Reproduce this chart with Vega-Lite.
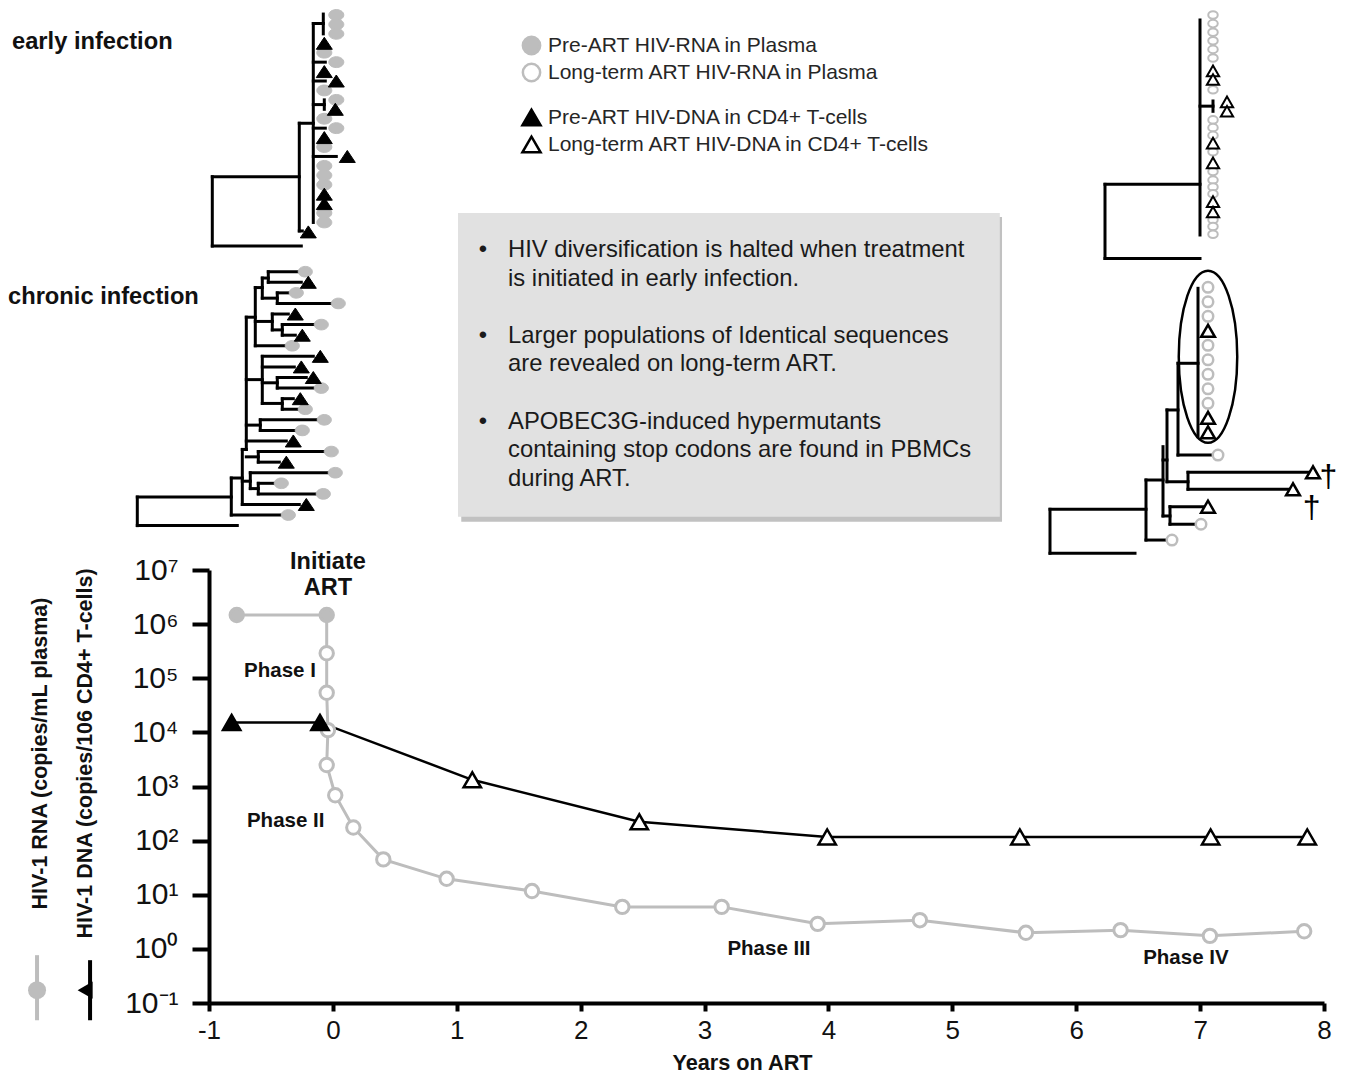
{
  "$schema": "https://vega.github.io/schema/vega-lite/v6.json",
  "padding": {"left": 8, "top": 0, "right": 0, "bottom": 0},
  "background": "white",
  "config": {"view": {"stroke": null}, "font": "Liberation Sans"},
  "datasets": {
    "E_v": [{"d":0,"r":17.15,"r2":24.5},{"d":0.087,"r":11.48,"r2":22.9},{"d":0.101,"r":0.9,"r2":22},{"d":0.111,"r":-0.1,"r2":2.0},{"d":0.112,"r":9,"r2":10}],
    "E_h": [{"r":17.15,"d":0,"d2":0.087},{"r":24.5,"d":0,"d2":0.089},{"r":11.48,"d":0.087,"d2":0.101},{"r":22.9,"d":0.087,"d2":0.09},{"r":0.9,"d":0.101,"d2":0.111},{"r":5,"d":0.101,"d2":0.113},{"r":7,"d":0.101,"d2":0.113},{"r":9.5,"d":0.101,"d2":0.112},{"r":12,"d":0.101,"d2":0.113},{"r":15,"d":0.101,"d2":0.124}],
    "E_t": [{"d":0.124,"r":0,"s":"preRNA"},{"d":0.124,"r":1,"s":"preRNA"},{"d":0.124,"r":2,"s":"preRNA"},{"d":0.112,"r":3,"s":"preDNA"},{"d":0.112,"r":4,"s":"preRNA"},{"d":0.124,"r":5,"s":"preRNA"},{"d":0.112,"r":6,"s":"preDNA"},{"d":0.124,"r":7,"s":"preDNA"},{"d":0.112,"r":8,"s":"preRNA"},{"d":0.124,"r":9,"s":"preRNA"},{"d":0.123,"r":10,"s":"preDNA"},{"d":0.112,"r":11,"s":"preRNA"},{"d":0.124,"r":12,"s":"preRNA"},{"d":0.112,"r":13,"s":"preDNA"},{"d":0.112,"r":14,"s":"preRNA"},{"d":0.135,"r":15,"s":"preDNA"},{"d":0.112,"r":16,"s":"preRNA"},{"d":0.112,"r":17,"s":"preRNA"},{"d":0.112,"r":18,"s":"preRNA"},{"d":0.112,"r":19,"s":"preDNA"},{"d":0.112,"r":20,"s":"preDNA"},{"d":0.112,"r":21,"s":"preRNA"},{"d":0.112,"r":22,"s":"preRNA"},{"d":0.096,"r":23,"s":"preDNA"}],
    "C_v": [{"d":0,"r":21.3,"r2":24.0},{"d":0.094,"r":19.5,"r2":23},{"d":0.105,"r":16.8,"r2":22},{"d":0.109,"r":4.3,"r2":16.8},{"d":0.121,"r":17,"r2":18},{"d":0.113,"r":19,"r2":20.5},{"d":0.121,"r":20,"r2":21},{"d":0.123,"r":14,"r2":15},{"d":0.125,"r":8,"r2":12.45},{"d":0.14,"r":10,"r2":11},{"d":0.145,"r":12,"r2":13},{"d":0.118,"r":1.5,"r2":7},{"d":0.125,"r":0.6,"r2":2.5},{"d":0.131,"r":0,"r2":1},{"d":0.14,"r":2,"r2":3},{"d":0.135,"r":4,"r2":5.5},{"d":0.145,"r":5,"r2":6}],
    "C_h": [{"r":21.3,"d":0,"d2":0.094},{"r":24.0,"d":0,"d2":0.1},{"r":23,"d":0.094,"d2":0.144},{"r":19.5,"d":0.094,"d2":0.105},{"r":22,"d":0.105,"d2":0.162},{"r":16.8,"d":0.105,"d2":0.109},{"r":16,"d":0.109,"d2":0.149},{"r":17.5,"d":0.109,"d2":0.121},{"r":17,"d":0.121,"d2":0.187},{"r":18,"d":0.121,"d2":0.142},{"r":19.8,"d":0.105,"d2":0.113},{"r":19,"d":0.113,"d2":0.191},{"r":20.5,"d":0.113,"d2":0.121},{"r":20,"d":0.121,"d2":0.137},{"r":21,"d":0.121,"d2":0.179},{"r":14.5,"d":0.109,"d2":0.123},{"r":14,"d":0.123,"d2":0.18},{"r":15,"d":0.123,"d2":0.158},{"r":10.2,"d":0.109,"d2":0.125},{"r":8,"d":0.125,"d2":0.176},{"r":9,"d":0.125,"d2":0.157},{"r":10.5,"d":0.125,"d2":0.14},{"r":10,"d":0.14,"d2":0.169},{"r":11,"d":0.14,"d2":0.177},{"r":12.45,"d":0.125,"d2":0.145},{"r":12,"d":0.145,"d2":0.156},{"r":13,"d":0.145,"d2":0.161},{"r":4.3,"d":0.109,"d2":0.118},{"r":7,"d":0.118,"d2":0.148},{"r":1.5,"d":0.118,"d2":0.125},{"r":0.6,"d":0.125,"d2":0.131},{"r":0,"d":0.131,"d2":0.161},{"r":1,"d":0.131,"d2":0.164},{"r":2.5,"d":0.125,"d2":0.14},{"r":2,"d":0.14,"d2":0.152},{"r":3,"d":0.14,"d2":0.194},{"r":4.7,"d":0.118,"d2":0.135},{"r":4,"d":0.135,"d2":0.151},{"r":5.5,"d":0.135,"d2":0.145},{"r":5,"d":0.145,"d2":0.177},{"r":6,"d":0.145,"d2":0.158}],
    "C_t": [{"d":0.168,"r":0,"s":"preRNA"},{"d":0.171,"r":1,"s":"preDNA"},{"d":0.159,"r":2,"s":"preRNA"},{"d":0.201,"r":3,"s":"preRNA"},{"d":0.158,"r":4,"s":"preDNA"},{"d":0.184,"r":5,"s":"preRNA"},{"d":0.165,"r":6,"s":"preDNA"},{"d":0.155,"r":7,"s":"preRNA"},{"d":0.183,"r":8,"s":"preDNA"},{"d":0.164,"r":9,"s":"preDNA"},{"d":0.176,"r":10,"s":"preDNA"},{"d":0.184,"r":11,"s":"preRNA"},{"d":0.163,"r":12,"s":"preDNA"},{"d":0.168,"r":13,"s":"preRNA"},{"d":0.187,"r":14,"s":"preRNA"},{"d":0.165,"r":15,"s":"preRNA"},{"d":0.156,"r":16,"s":"preDNA"},{"d":0.194,"r":17,"s":"preRNA"},{"d":0.149,"r":18,"s":"preDNA"},{"d":0.198,"r":19,"s":"preRNA"},{"d":0.144,"r":20,"s":"preRNA"},{"d":0.186,"r":21,"s":"preRNA"},{"d":0.169,"r":22,"s":"preDNA"},{"d":0.151,"r":23,"s":"preRNA"}],
    "R1_v": [{"d":0,"r":19.69,"r2":28.31},{"d":0.095,"r":0.58,"r2":25.58},{"d":0.108,"r":10.0,"r2":11.2}],
    "R1_h": [{"r":19.69,"d":0,"d2":0.095},{"r":28.31,"d":0,"d2":0.095},{"r":10.6,"d":0.095,"d2":0.108}],
    "R1_t": [{"d":0.108,"r":0,"s":"artRNA"},{"d":0.108,"r":1,"s":"artRNA"},{"d":0.108,"r":2,"s":"artRNA"},{"d":0.108,"r":3,"s":"artRNA"},{"d":0.108,"r":4,"s":"artRNA"},{"d":0.108,"r":5,"s":"artRNA"},{"d":0.108,"r":6.5,"s":"artDNA"},{"d":0.108,"r":7.5,"s":"artDNA"},{"d":0.108,"r":8.7,"s":"artRNA"},{"d":0.122,"r":10.1,"s":"artDNA"},{"d":0.122,"r":11.2,"s":"artDNA"},{"d":0.108,"r":12.2,"s":"artRNA"},{"d":0.108,"r":13.1,"s":"artRNA"},{"d":0.108,"r":14,"s":"artRNA"},{"d":0.108,"r":14.9,"s":"artDNA"},{"d":0.108,"r":15.9,"s":"artRNA"},{"d":0.108,"r":17.2,"s":"artDNA"},{"d":0.108,"r":18.2,"s":"artRNA"},{"d":0.108,"r":19.2,"s":"artRNA"},{"d":0.108,"r":20,"s":"artRNA"},{"d":0.108,"r":20.8,"s":"artRNA"},{"d":0.108,"r":21.7,"s":"artDNA"},{"d":0.108,"r":22.9,"s":"artDNA"},{"d":0.108,"r":23.8,"s":"artRNA"},{"d":0.108,"r":24.6,"s":"artRNA"},{"d":0.108,"r":25.5,"s":"artRNA"}],
    "R2_v": [{"d":0,"r":15.31,"r2":18.34},{"d":0.096,"r":13.29,"r2":17.43},{"d":0.113,"r":10.99,"r2":15.77},{"d":0.12,"r":15.13,"r2":16.34},{"d":0.117,"r":8.46,"r2":13.41},{"d":0.138,"r":12.76,"r2":13.93},{"d":0.128,"r":5.24,"r2":11.57},{"d":0.148,"r":0.07,"r2":10.3}],
    "R2_h": [{"r":15.31,"d":0,"d2":0.096},{"r":18.34,"d":0,"d2":0.085},{"r":17.43,"d":0.096,"d2":0.117},{"r":13.29,"d":0.096,"d2":0.113},{"r":15.77,"d":0.113,"d2":0.12},{"r":15.13,"d":0.12,"d2":0.153},{"r":16.34,"d":0.12,"d2":0.145},{"r":11.91,"d":0.113,"d2":0.117},{"r":8.46,"d":0.117,"d2":0.128},{"r":13.41,"d":0.117,"d2":0.138},{"r":12.76,"d":0.138,"d2":0.258},{"r":13.93,"d":0.138,"d2":0.238},{"r":11.57,"d":0.128,"d2":0.162},{"r":5.24,"d":0.128,"d2":0.148}],
    "R2_t": [{"d":0.158,"r":0,"s":"artRNA"},{"d":0.158,"r":1,"s":"artRNA"},{"d":0.158,"r":2,"s":"artRNA"},{"d":0.158,"r":3,"s":"artDNA"},{"d":0.158,"r":4,"s":"artRNA"},{"d":0.158,"r":5,"s":"artRNA"},{"d":0.158,"r":6,"s":"artRNA"},{"d":0.158,"r":7,"s":"artRNA"},{"d":0.158,"r":8,"s":"artRNA"},{"d":0.158,"r":9,"s":"artDNA"},{"d":0.158,"r":10,"s":"artDNA"},{"d":0.168,"r":11.57,"s":"artRNA"},{"d":0.263,"r":12.76,"s":"artDNA"},{"d":0.243,"r":13.93,"s":"artDNA"},{"d":0.158,"r":15.13,"s":"artDNA"},{"d":0.151,"r":16.34,"s":"artRNA"},{"d":0.122,"r":17.43,"s":"artRNA"}],
    "R2_flag": [{"d":0.2785,"r":13.05,"label":"†"},{"d":0.2617,"r":15.22,"label":"†"}],
    "box": [{"line":0,"text":"HIV diversification is halted when treatment","bullet":true},{"line":1,"text":"is initiated in early infection.","bullet":false},{"line":3,"text":"Larger populations of Identical sequences","bullet":true},{"line":4,"text":"are revealed on long-term ART.","bullet":false},{"line":6,"text":"APOBEC3G-induced hypermutants","bullet":true},{"line":7,"text":"containing stop codons are found in PBMCs","bullet":false},{"line":8,"text":"during ART.","bullet":false}],
    "main": [
      {"a":"RNA","t":-0.776,"v":1470000,"s":"preRNA"},
      {"a":"RNA","t":-0.05,"v":1470000,"s":"preRNA"},
      {"a":"RNA","t":-0.05,"v":290000,"s":"artRNA"},
      {"a":"RNA","t":-0.05,"v":54000,"s":"artRNA"},
      {"a":"RNA","t":-0.04,"v":11000,"s":"artRNA"},
      {"a":"RNA","t":-0.05,"v":2500,"s":"artRNA"},
      {"a":"RNA","t":0.019,"v":690,"s":"artRNA"},
      {"a":"RNA","t":0.165,"v":175,"s":"artRNA"},
      {"a":"RNA","t":0.407,"v":45,"s":"artRNA"},
      {"a":"RNA","t":0.918,"v":19.7,"s":"artRNA"},
      {"a":"RNA","t":1.607,"v":11.7,"s":"artRNA"},
      {"a":"RNA","t":2.336,"v":5.97,"s":"artRNA"},
      {"a":"RNA","t":3.138,"v":5.97,"s":"artRNA"},
      {"a":"RNA","t":3.913,"v":2.9,"s":"artRNA"},
      {"a":"RNA","t":4.738,"v":3.39,"s":"artRNA"},
      {"a":"RNA","t":5.594,"v":1.98,"s":"artRNA"},
      {"a":"RNA","t":6.358,"v":2.22,"s":"artRNA"},
      {"a":"RNA","t":7.079,"v":1.74,"s":"artRNA"},
      {"a":"RNA","t":7.84,"v":2.12,"s":"artRNA"},
      {"a":"DNA","t":-0.817,"v":15300,"s":"preDNA"},
      {"a":"DNA","t":-0.104,"v":15300,"s":"preDNA"},
      {"a":"DNA","t":1.125,"v":1330,"s":"artDNA"},
      {"a":"DNA","t":2.473,"v":223,"s":"artDNA"},
      {"a":"DNA","t":3.99,"v":117,"s":"artDNA"},
      {"a":"DNA","t":5.545,"v":117,"s":"artDNA"},
      {"a":"DNA","t":7.085,"v":117,"s":"artDNA"},
      {"a":"DNA","t":7.865,"v":117,"s":"artDNA"}
    ],
    "phases": [{"t":-0.427,"v":138000,"label":"Phase I"},{"t":-0.381,"v":235,"label":"Phase II"},{"t":3.52,"v":0.99,"label":"Phase III"},{"t":6.885,"v":0.69,"label":"Phase IV"}],
    "art": [{"t":-0.04,"v":14200000,"label":"Initiate"},{"t":-0.04,"v":4600000,"label":"ART"}]
  },
  "spacing": -7,
  "resolve": {"scale": {"fill": "independent", "color": "independent"}, "legend": {"fill": "independent", "color": "independent"}},
  "vconcat": [
    {
      "width": 1131, "height": 552,
      "resolve": {"scale": {"x": "independent", "y": "independent"}},
      "layer": [
        {
          "layer": [
            {
              "encoding": {
                "x": {"field": "d", "type": "quantitative", "scale": {"domain": [-0.0033, 1.1277], "nice": false, "zero": false}, "axis": null},
                "y": {"field": "r", "type": "quantitative", "scale": {"domain": [-1.591, 56.946], "reverse": true, "nice": false, "zero": false}, "axis": null}
              },
              "layer": [
                {"data": {"name": "E_v"}, "mark": {"type": "rule", "color": "black", "strokeWidth": 3, "strokeCap": "square"}, "encoding": {"y2": {"field": "r2"}}},
                {"data": {"name": "E_h"}, "mark": {"type": "rule", "color": "black", "strokeWidth": 3, "strokeCap": "square"}, "encoding": {"x2": {"field": "d2"}}},
                {"data": {"name": "E_t"}, "transform": [{"filter": "datum.s == 'preRNA'"}], "mark": {"type": "point", "shape": "M-1,0A1,0.72,0,1,1,1,0A1,0.72,0,1,1,-1,0Z", "size": 225, "opacity": 1, "stroke": "#bdbdbd", "strokeWidth": 1},
                  "encoding": {"fill": {"field": "s", "type": "nominal", "scale": {"domain": ["preRNA", "artRNA"], "range": ["#bdbdbd", "#ffffff"]},
                    "legend": {"orient": "none", "legendX": 312, "legendY": 35, "title": null, "symbolType": "circle", "symbolSize": 300, "symbolStrokeColor": "#bdbdbd", "symbolStrokeWidth": 2.5, "labelFontSize": 21, "labelFont": "Liberation Sans", "labelColor": "#262626", "labelOffset": 6, "rowPadding": -2, "labelLimit": 600, "labelExpr": "datum.label == 'preRNA' ? 'Pre-ART HIV-RNA in Plasma' : 'Long-term ART HIV-RNA in Plasma'"}}}},
                {"data": {"name": "E_t"}, "transform": [{"filter": "datum.s == 'preDNA'"}], "mark": {"type": "point", "shape": "M0,-0.75L1,0.75L-1,0.75Z", "size": 256, "filled": true, "opacity": 1, "stroke": "black", "strokeWidth": 1},
                  "encoding": {"color": {"field": "s", "type": "nominal", "scale": {"domain": ["preDNA", "artDNA"], "range": ["#000000", "#ffffff"]},
                    "legend": {"orient": "none", "legendX": 312, "legendY": 107, "title": null, "symbolType": "triangle-up", "symbolSize": 330, "symbolStrokeColor": "black", "symbolStrokeWidth": 2.5, "labelFontSize": 21, "labelFont": "Liberation Sans", "labelColor": "#262626", "labelOffset": 6, "rowPadding": 0, "labelLimit": 600, "labelExpr": "datum.label == 'preDNA' ? 'Pre-ART HIV-DNA in CD4+ T-cells' : 'Long-term ART HIV-DNA in CD4+ T-cells'"}}}}
              ]
            },
            {"data": {"values": [{"label": "early infection"}]}, "mark": {"type": "text", "align": "left", "baseline": "middle", "fontSize": 23.7, "fontWeight": "bold", "color": "#111111"},
              "encoding": {"x": {"datum": -0.2003, "type": "quantitative", "scale": {"domain": [-0.0033, 1.1277], "nice": false, "zero": false}, "axis": null}, "y": {"datum": 2.86, "type": "quantitative", "scale": {"domain": [-1.591, 56.946], "reverse": true, "nice": false, "zero": false}, "axis": null}, "text": {"field": "label"}}}
          ]
        },
        {
          "layer": [
            {
              "encoding": {
                "x": {"field": "d", "type": "quantitative", "scale": {"domain": [0.0717, 1.2027], "nice": false, "zero": false}, "axis": null},
                "y": {"field": "r", "type": "quantitative", "scale": {"domain": [-25.681, 26.493], "reverse": true, "nice": false, "zero": false}, "axis": null}
              },
              "layer": [
                {"data": {"name": "C_v"}, "mark": {"type": "rule", "color": "black", "strokeWidth": 3, "strokeCap": "square"}, "encoding": {"y2": {"field": "r2"}}},
                {"data": {"name": "C_h"}, "mark": {"type": "rule", "color": "black", "strokeWidth": 3, "strokeCap": "square"}, "encoding": {"x2": {"field": "d2"}}},
                {"data": {"name": "C_t"}, "transform": [{"filter": "datum.s == 'preRNA'"}], "mark": {"type": "point", "shape": "M-1,0A1,0.75,0,1,1,1,0A1,0.75,0,1,1,-1,0Z", "size": 200, "opacity": 1, "stroke": "#bdbdbd", "strokeWidth": 1}, "encoding": {"fill": {"field": "s", "type": "nominal", "scale": {"domain": ["preRNA", "artRNA"], "range": ["#bdbdbd", "#ffffff"]}}}},
                {"data": {"name": "C_t"}, "transform": [{"filter": "datum.s == 'preDNA'"}], "mark": {"type": "point", "shape": "M0,-0.75L1,0.75L-1,0.75Z", "size": 256, "filled": true, "opacity": 1, "stroke": "black", "strokeWidth": 1}, "encoding": {"color": {"field": "s", "type": "nominal", "scale": {"domain": ["preDNA", "artDNA"], "range": ["#000000", "#ffffff"]}}}}
              ]
            },
            {"data": {"values": [{"label": "chronic infection"}]}, "mark": {"type": "text", "align": "left", "baseline": "middle", "fontSize": 23.7, "fontWeight": "bold", "color": "#111111"},
              "encoding": {"x": {"datum": -0.1293, "type": "quantitative", "scale": {"domain": [0.0717, 1.2027], "nice": false, "zero": false}, "axis": null}, "y": {"datum": 2.39, "type": "quantitative", "scale": {"domain": [-25.681, 26.493], "reverse": true, "nice": false, "zero": false}, "axis": null}, "text": {"field": "label"}}}
          ]
        },
        {
          "encoding": {
            "x": {"field": "d", "type": "quantitative", "scale": {"domain": [-0.896, 0.235], "nice": false, "zero": false}, "axis": null},
            "y": {"field": "r", "type": "quantitative", "scale": {"domain": [-1.744, 62.442], "reverse": true, "nice": false, "zero": false}, "axis": null}
          },
          "layer": [
            {"data": {"name": "R1_v"}, "mark": {"type": "rule", "color": "black", "strokeWidth": 3, "strokeCap": "square"}, "encoding": {"y2": {"field": "r2"}}},
            {"data": {"name": "R1_h"}, "mark": {"type": "rule", "color": "black", "strokeWidth": 3, "strokeCap": "square"}, "encoding": {"x2": {"field": "d2"}}},
            {"data": {"name": "R1_t"}, "transform": [{"filter": "datum.s == 'artRNA'"}], "mark": {"type": "point", "shape": "M-1,0A1,0.8,0,1,1,1,0A1,0.8,0,1,1,-1,0Z", "size": 90, "opacity": 1, "stroke": "#bdbdbd", "strokeWidth": 2}, "encoding": {"fill": {"field": "s", "type": "nominal", "scale": {"domain": ["preRNA", "artRNA"], "range": ["#bdbdbd", "#ffffff"]}}}},
            {"data": {"name": "R1_t"}, "transform": [{"filter": "datum.s == 'artDNA'"}], "mark": {"type": "point", "shape": "triangle-up", "size": 150, "filled": true, "opacity": 1, "stroke": "black", "strokeWidth": 2}, "encoding": {"color": {"field": "s", "type": "nominal", "scale": {"domain": ["preDNA", "artDNA"], "range": ["#000000", "#ffffff"]}}}}
          ]
        },
        {
          "layer": [
            {
              "encoding": {
                "x": {"field": "d", "type": "quantitative", "scale": {"domain": [-0.841, 0.29], "nice": false, "zero": false}, "axis": null},
                "y": {"field": "r", "type": "quantitative", "scale": {"domain": [-19.814, 18.255], "reverse": true, "nice": false, "zero": false}, "axis": null}
              },
              "layer": [
                {"data": {"name": "R2_v"}, "mark": {"type": "rule", "color": "black", "strokeWidth": 3, "strokeCap": "square"}, "encoding": {"y2": {"field": "r2"}}},
                {"data": {"name": "R2_h"}, "mark": {"type": "rule", "color": "black", "strokeWidth": 3, "strokeCap": "square"}, "encoding": {"x2": {"field": "d2"}}},
                {"data": {"name": "R2_t"}, "transform": [{"filter": "datum.s == 'artRNA'"}], "mark": {"type": "point", "shape": "circle", "size": 110, "opacity": 1, "stroke": "#bdbdbd", "strokeWidth": 2.5}, "encoding": {"fill": {"field": "s", "type": "nominal", "scale": {"domain": ["preRNA", "artRNA"], "range": ["#bdbdbd", "#ffffff"]}}}},
                {"data": {"name": "R2_t"}, "transform": [{"filter": "datum.s == 'artDNA'"}], "mark": {"type": "point", "shape": "triangle-up", "size": 190, "filled": true, "opacity": 1, "stroke": "black", "strokeWidth": 2.5}, "encoding": {"color": {"field": "s", "type": "nominal", "scale": {"domain": ["preDNA", "artDNA"], "range": ["#000000", "#ffffff"]}}}},
                {"data": {"name": "R2_flag"}, "mark": {"type": "text", "align": "center", "baseline": "middle", "fontSize": 32, "color": "black"}, "encoding": {"text": {"field": "label"}}}
              ]
            },
            {"data": {"values": [{}]}, "mark": {"type": "point", "shape": "M-0.34,0A0.34,1,0,1,1,0.34,0A0.34,1,0,1,1,-0.34,0Z", "size": 29584, "opacity": 1, "stroke": "black", "strokeWidth": 2.5, "filled": false},
              "encoding": {"x": {"datum": 0.158, "type": "quantitative", "scale": {"domain": [-0.841, 0.29], "nice": false, "zero": false}, "axis": null}, "y": {"datum": 4.79, "type": "quantitative", "scale": {"domain": [-19.814, 18.255], "reverse": true, "nice": false, "zero": false}, "axis": null}}}
          ]
        },
        {
          "layer": [
            {"data": {"values": [{}]}, "mark": {"type": "rect", "color": "#a6a6a6", "opacity": 0.7},
              "encoding": {"x": {"datum": 0.006, "type": "quantitative", "scale": {"domain": [-0.4577, 1.6213], "nice": false, "zero": false}, "axis": null}, "x2": {"datum": 1.0}, "y": {"datum": -1.15, "type": "quantitative", "scale": {"domain": [-8.741, 10.559], "reverse": true, "nice": false, "zero": false}, "axis": null}, "y2": {"datum": 9.5}}},
            {"data": {"values": [{}]}, "mark": {"type": "rect", "color": "#e1e1e1", "opacity": 1},
              "encoding": {"x": {"datum": 0, "type": "quantitative", "scale": {"domain": [-0.4577, 1.6213], "nice": false, "zero": false}, "axis": null}, "x2": {"datum": 0.996}, "y": {"datum": -1.29, "type": "quantitative", "scale": {"domain": [-8.741, 10.559], "reverse": true, "nice": false, "zero": false}, "axis": null}, "y2": {"datum": 9.33}}},
            {"data": {"name": "box"}, "mark": {"type": "text", "align": "left", "baseline": "middle", "fontSize": 23.8, "color": "#1a1a1a"},
              "encoding": {"x": {"datum": 0.092, "type": "quantitative", "scale": {"domain": [-0.4577, 1.6213], "nice": false, "zero": false}, "axis": null}, "y": {"field": "line", "type": "quantitative", "scale": {"domain": [-8.741, 10.559], "reverse": true, "nice": false, "zero": false}, "axis": null}, "text": {"field": "text"}}},
            {"data": {"name": "box"}, "transform": [{"filter": "datum.bullet"}], "mark": {"type": "text", "align": "center", "baseline": "middle", "fontSize": 23.8, "color": "#1a1a1a"},
              "encoding": {"x": {"datum": 0.046, "type": "quantitative", "scale": {"domain": [-0.4577, 1.6213], "nice": false, "zero": false}, "axis": null}, "y": {"field": "line", "type": "quantitative", "scale": {"domain": [-8.741, 10.559], "reverse": true, "nice": false, "zero": false}, "axis": null}, "text": {"value": "•"}}}
          ]
        }
      ]
    },
    {
      "width": 1115, "height": 433,
      "layer": [
        {
          "encoding": {
            "x": {"field": "t", "type": "quantitative", "scale": {"domain": [-1, 8], "nice": false, "zero": false},
              "axis": {"values": [-1, 0, 1, 2, 3, 4, 5, 6, 7, 8], "labelExpr": "datum.value + ''", "labelFontSize": 26, "labelFont": "Liberation Sans", "labelColor": "#111111", "tickSize": 8, "tickWidth": 4, "tickColor": "black", "domainColor": "black", "domainWidth": 4, "labelPadding": 6, "grid": false, "labelFlush": false, "labelOverlap": false, "title": "Years on ART", "titleFontSize": 21.7, "titleFontWeight": "bold", "titleFont": "Liberation Sans", "titleColor": "#111111", "titleX": 533, "titleY": 59, "titleBaseline": "middle", "titleAlign": "center"}},
            "y": {"field": "v", "type": "quantitative", "scale": {"type": "log", "domain": [0.1, 10000000], "nice": false},
              "axis": {"values": [0.1, 1, 10, 100, 1000, 10000, 100000, 1000000, 10000000], "labelExpr": "'10' + ['⁻¹','⁰','¹','²','³','⁴','⁵','⁶','⁷'][round(log(datum.value)/LN10) + 1]", "labelFontSize": 30, "labelFont": "Liberation Sans", "labelColor": "#111111", "tickSize": 17, "tickWidth": 4, "tickColor": "black", "domainColor": "black", "domainWidth": 4, "labelPadding": 14, "grid": false, "labelFlush": false, "labelOverlap": false,
                "title": ["HIV-1 RNA (copies/mL plasma)", "HIV-1 DNA (copies/106 CD4+ T-cells)"], "titleFontSize": 21.5, "titleFontWeight": "bold", "titleFont": "Liberation Sans", "titleColor": "#111111", "titleLineHeight": 45, "titleAngle": -90, "titleX": -158, "titleY": 183, "titleBaseline": "bottom", "titleAlign": "center"}}
          },
          "layer": [
            {"data": {"name": "main"}, "transform": [{"filter": "datum.a == 'RNA'"}], "mark": {"type": "line", "color": "#bdbdbd", "strokeWidth": 3}, "encoding": {"order": {"value": null}}},
            {"data": {"name": "main"}, "transform": [{"filter": "datum.a == 'DNA'"}], "mark": {"type": "line", "color": "black", "strokeWidth": 2.5}, "encoding": {"order": {"value": null}}},
            {"data": {"name": "main"}, "transform": [{"filter": "datum.a == 'RNA'"}], "mark": {"type": "point", "shape": "circle", "size": 180, "opacity": 1, "stroke": "#bdbdbd", "strokeWidth": 3},
              "encoding": {"fill": {"field": "s", "type": "nominal", "scale": {"domain": ["preRNA", "artRNA"], "range": ["#bdbdbd", "#ffffff"]}, "legend": null}}},
            {"data": {"name": "main"}, "transform": [{"filter": "datum.a == 'DNA'"}], "mark": {"type": "point", "shape": "triangle-up", "size": 300, "filled": true, "opacity": 1, "stroke": "black", "strokeWidth": 2.5},
              "encoding": {"color": {"field": "s", "type": "nominal", "scale": {"domain": ["preDNA", "artDNA"], "range": ["#000000", "#ffffff"]}, "legend": null}}},
            {"data": {"name": "phases"}, "mark": {"type": "text", "align": "center", "baseline": "middle", "fontSize": 20.5, "fontWeight": "bold", "color": "#111111"}, "encoding": {"text": {"field": "label"}}},
            {"data": {"name": "art"}, "mark": {"type": "text", "align": "center", "baseline": "middle", "fontSize": 23.5, "fontWeight": "bold", "color": "#111111"}, "encoding": {"text": {"field": "label"}}}
          ]
        },
        {"data": {"values": [{}]}, "mark": {"type": "rule", "color": "#bdbdbd", "strokeWidth": 4},
          "encoding": {"x": {"datum": -2.388, "type": "quantitative", "scale": {"domain": [-1, 8], "nice": false, "zero": false}}, "y": {"datum": 0.765, "type": "quantitative", "scale": {"type": "log", "domain": [0.1, 10000000], "nice": false}}, "y2": {"datum": 0.048}}},
        {"data": {"values": [{}]}, "mark": {"type": "point", "shape": "circle", "size": 324, "filled": true, "opacity": 1, "color": "#bdbdbd"},
          "encoding": {"x": {"datum": -2.388, "type": "quantitative", "scale": {"domain": [-1, 8], "nice": false, "zero": false}}, "y": {"datum": 0.1726, "type": "quantitative", "scale": {"type": "log", "domain": [0.1, 10000000], "nice": false}}}},
        {"data": {"values": [{}]}, "mark": {"type": "rule", "color": "black", "strokeWidth": 4},
          "encoding": {"x": {"datum": -1.96, "type": "quantitative", "scale": {"domain": [-1, 8], "nice": false, "zero": false}}, "y": {"datum": 0.618, "type": "quantitative", "scale": {"type": "log", "domain": [0.1, 10000000], "nice": false}}, "y2": {"datum": 0.048}}},
        {"data": {"values": [{}]}, "mark": {"type": "point", "shape": "triangle-left", "size": 300, "filled": true, "opacity": 1, "color": "black"},
          "encoding": {"x": {"datum": -2.0, "type": "quantitative", "scale": {"domain": [-1, 8], "nice": false, "zero": false}}, "y": {"datum": 0.1726, "type": "quantitative", "scale": {"type": "log", "domain": [0.1, 10000000], "nice": false}}}}
      ]
    }
  ]
}
